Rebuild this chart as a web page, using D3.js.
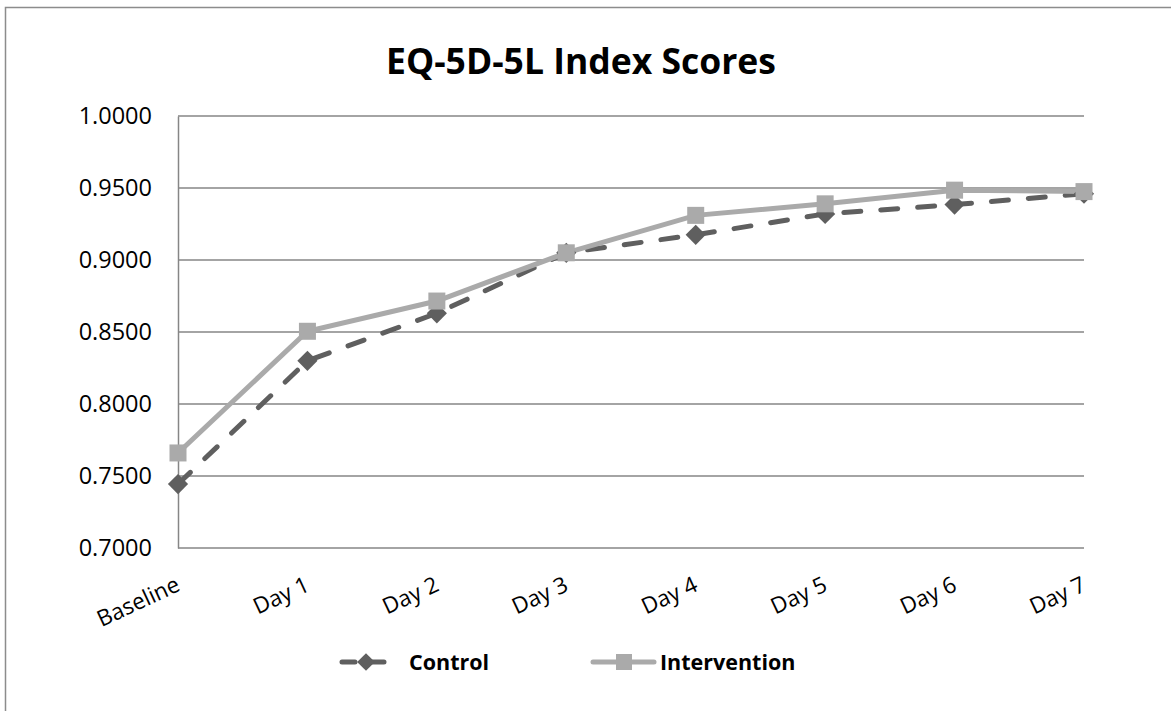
<!DOCTYPE html>
<html>
<head>
<meta charset="utf-8">
<script src="https://cdn.jsdelivr.net/npm/d3@7"></script>
<style>
  body { margin: 0; background: #fff; }
  svg text { font-family: "Open Sans", "Liberation Sans", sans-serif; }
</style>
</head>
<body>
<div id="container"></div>
<script>
const categories = ["Baseline", "Day 1", "Day 2", "Day 3", "Day 4", "Day 5", "Day 6", "Day 7"];
const control = [0.7444, 0.8300, 0.8630, 0.9050, 0.9175, 0.9320, 0.9385, 0.9460];
const intervention = [0.7660, 0.8505, 0.8715, 0.9050, 0.9310, 0.9390, 0.9485, 0.9475];
const yTicks = [0.70, 0.75, 0.80, 0.85, 0.90, 0.95, 1.00];

const width = 1171, height = 711;
const margin = { top: 116, right: 87, bottom: 163, left: 178 };

let svg = d3.select("#container").append("svg")
    .attr("width", width)
    .attr("height", height);

// chart border
svg.append("rect")
    .attr("x", 5.5).attr("y", 7.5)
    .attr("width", width + 20).attr("height", height + 20)
    .attr("fill", "white")
    .attr("stroke", "#8c8c8c")
    .attr("stroke-width", 1.5);

let x = d3.scalePoint()
    .domain(categories)
    .range([margin.left, width - margin.right]);
let y = d3.scaleLinear()
    .domain([0.7, 1.0])
    .range([height - margin.bottom, margin.top]);

// title
svg.append("text")
    .attr("x", 581).attr("y", 74)
    .attr("text-anchor", "middle")
    .style("font-size", "35.5px")
    .style("font-weight", "bold")
    .text("EQ-5D-5L Index Scores");

// gridlines
svg.append("g")
    .selectAll("line")
    .data(yTicks)
    .enter()
    .append("line")
    .attr("x1", margin.left).attr("x2", width - margin.right)
    .attr("y1", d => y(d)).attr("y2", d => y(d))
    .attr("stroke", "#868686")
    .attr("stroke-width", 1.3);

// y axis
let yAxis = svg.append("g")
    .attr("transform", `translate(${margin.left},0)`)
    .call(d3.axisLeft(y).tickValues(yTicks).tickFormat(d3.format(".4f")).tickSize(0).tickPadding(26));
yAxis.select(".domain").attr("stroke", "#868686").attr("stroke-width", 1.5);
yAxis.selectAll("text")
    .style("font-size", "23.5px")
    .attr("fill", "#000");

// x axis labels, rotated
let xAxis = svg.append("g")
    .attr("transform", `translate(0,${height - margin.bottom})`)
    .call(d3.axisBottom(x).tickSize(0));
xAxis.select(".domain").remove();
xAxis.selectAll("text")
    .style("font-size", "22.5px")
    .attr("fill", "#000")
    .attr("text-anchor", "end")
    .attr("dy", 0)
    .attr("transform", "translate(3,42) rotate(-25)")
    .attr("y", 0);

let line = d3.line()
    .x((d, i) => x(categories[i]))
    .y(d => y(d));

const ctrlColor = "#5f5f5f";
const intColor = "#aaaaaa";

svg.append("path")
    .datum(control)
    .attr("fill", "none")
    .attr("stroke", ctrlColor)
    .attr("stroke-width", 5)
    .attr("stroke-linecap", "round")
    .attr("stroke-dasharray", "17,20")
    .attr("d", line);

svg.append("path")
    .datum(intervention)
    .attr("fill", "none")
    .attr("stroke", intColor)
    .attr("stroke-width", 5)
    .attr("d", line);

const diamond = d3.symbol().type(d3.symbolDiamond2).size(260);
const square = 17;

svg.selectAll(".ctrl-point")
    .data(control)
    .enter()
    .append("path")
    .attr("class", "ctrl-point")
    .attr("d", diamond)
    .attr("transform", (d, i) => `translate(${x(categories[i])},${y(d)})`)
    .attr("fill", ctrlColor);

svg.selectAll(".int-point")
    .data(intervention)
    .enter()
    .append("rect")
    .attr("class", "int-point")
    .attr("x", (d, i) => x(categories[i]) - square / 2)
    .attr("y", d => y(d) - square / 2)
    .attr("width", square)
    .attr("height", square)
    .attr("fill", intColor);

// legend
let legend = svg.append("g").attr("transform", "translate(0,662)");
legend.append("line")
    .attr("x1", 342).attr("x2", 393).attr("y1", 0).attr("y2", 0)
    .attr("stroke", ctrlColor).attr("stroke-width", 5)
    .attr("stroke-linecap", "round").attr("stroke-dasharray", "13,16");
legend.append("path")
    .attr("d", d3.symbol().type(d3.symbolDiamond2).size(200))
    .attr("transform", "translate(366,0)")
    .attr("fill", ctrlColor);
legend.append("text")
    .attr("x", 409).attr("y", 8)
    .style("font-size", "21.5px").style("font-weight", "bold")
    .text("Control");

legend.append("line")
    .attr("x1", 593).attr("x2", 654).attr("y1", 0).attr("y2", 0)
    .attr("stroke", intColor).attr("stroke-width", 5)
    .attr("stroke-linecap", "round");
legend.append("rect")
    .attr("x", 616).attr("y", -8).attr("width", 16).attr("height", 16)
    .attr("fill", intColor);
legend.append("text")
    .attr("x", 660).attr("y", 8)
    .style("font-size", "21.5px").style("font-weight", "bold")
    .text("Intervention");
</script>
</body>
</html>
